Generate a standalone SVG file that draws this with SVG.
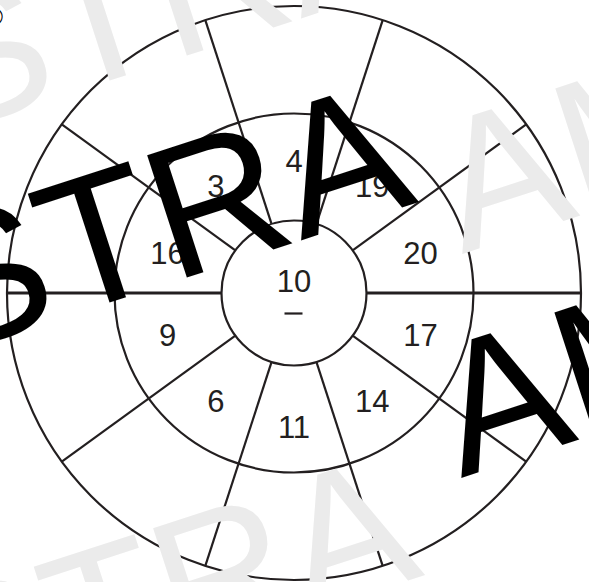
<svg xmlns="http://www.w3.org/2000/svg" width="589" height="582" viewBox="0 0 589 582">
  <style>
    .ring { fill: none; stroke: #231f20; stroke-width: 2.2; }
    .rad { stroke: #231f20; stroke-width: 2.2; }
    .hz { stroke: #231f20; stroke-width: 2.8; }
    .lbl { font-family: "Liberation Sans", Arial, sans-serif; font-size: 31px; fill: #231f20; text-anchor: middle; }
    .wm { font-family: "Liberation Sans", Arial, sans-serif; font-size: 187px; }
    .wg { fill: #ebebeb; }
    .wb { fill: #000000; }
  </style>
  <rect x="0" y="0" width="589" height="582" fill="#ffffff"/>

  <g id="rings">
    <circle class="ring" cx="294" cy="293" r="287"/>
    <circle class="ring" cx="294" cy="293" r="179.5"/>
    <circle class="ring" cx="294" cy="293" r="72.5"/>
  </g>

  <g id="connectors">
    <line class="hz" x1="366.5" y1="293" x2="581" y2="293"/>
    <line class="rad" x1="352.65" y1="250.39" x2="526.19" y2="124.30"/>
    <line class="rad" x1="316.40" y1="224.05" x2="382.69" y2="20.05"/>
    <line class="rad" x1="271.60" y1="224.05" x2="205.31" y2="20.05"/>
    <line class="rad" x1="235.35" y1="250.39" x2="61.81" y2="124.30"/>
    <line class="hz" x1="221.5" y1="293" x2="7" y2="293"/>
    <line class="rad" x1="235.35" y1="335.61" x2="61.81" y2="461.70"/>
    <line class="rad" x1="271.60" y1="361.95" x2="205.31" y2="565.95"/>
    <line class="rad" x1="316.40" y1="361.95" x2="382.69" y2="565.95"/>
    <line class="rad" x1="352.65" y1="335.61" x2="526.19" y2="461.70"/>
  </g>

  <g id="center">
    <text class="lbl" x="294" y="292">10</text>
    <line x1="284.5" y1="313.5" x2="302.5" y2="313.5" stroke="#231f20" stroke-width="2.2"/>
  </g>
  <g id="s20"><text class="lbl" x="420.5" y="264">20</text></g>
  <g id="s19"><text class="lbl" x="372.2" y="197">19</text></g>
  <g id="s4"><text class="lbl" x="294" y="171.5">4</text></g>
  <g id="s3"><text class="lbl" x="215.8" y="197">3</text></g>
  <g id="s16"><text class="lbl" x="167.5" y="264">16</text></g>
  <g id="s9"><text class="lbl" x="167.5" y="345.5">9</text></g>
  <g id="s6"><text class="lbl" x="215.8" y="412">6</text></g>
  <g id="s11"><text class="lbl" x="294" y="437.5">11</text></g>
  <g id="s14"><text class="lbl" x="372.2" y="412">14</text></g>
  <g id="s17"><text class="lbl" x="420.5" y="345.5">17</text></g>

  <g id="watermark-gray">
    <text class="wm wg" transform="translate(-55,134) rotate(-18)">STRA</text>
    <text class="wm wg" transform="translate(-49,729) rotate(-18)">STRA</text>
    <text class="wm wg" transform="translate(462,254) rotate(-18)">AM</text>
  </g>
  <g id="watermark-black">
    <text class="wm wb" transform="translate(-55,356) rotate(-18)">STRA</text>
    <text class="wm wb" transform="translate(461,478) rotate(-18)">AM</text>
    <text x="-14" y="24.5" font-family="Liberation Sans, Arial, sans-serif" font-size="23" fill="#000">©</text>
  </g>
</svg>
